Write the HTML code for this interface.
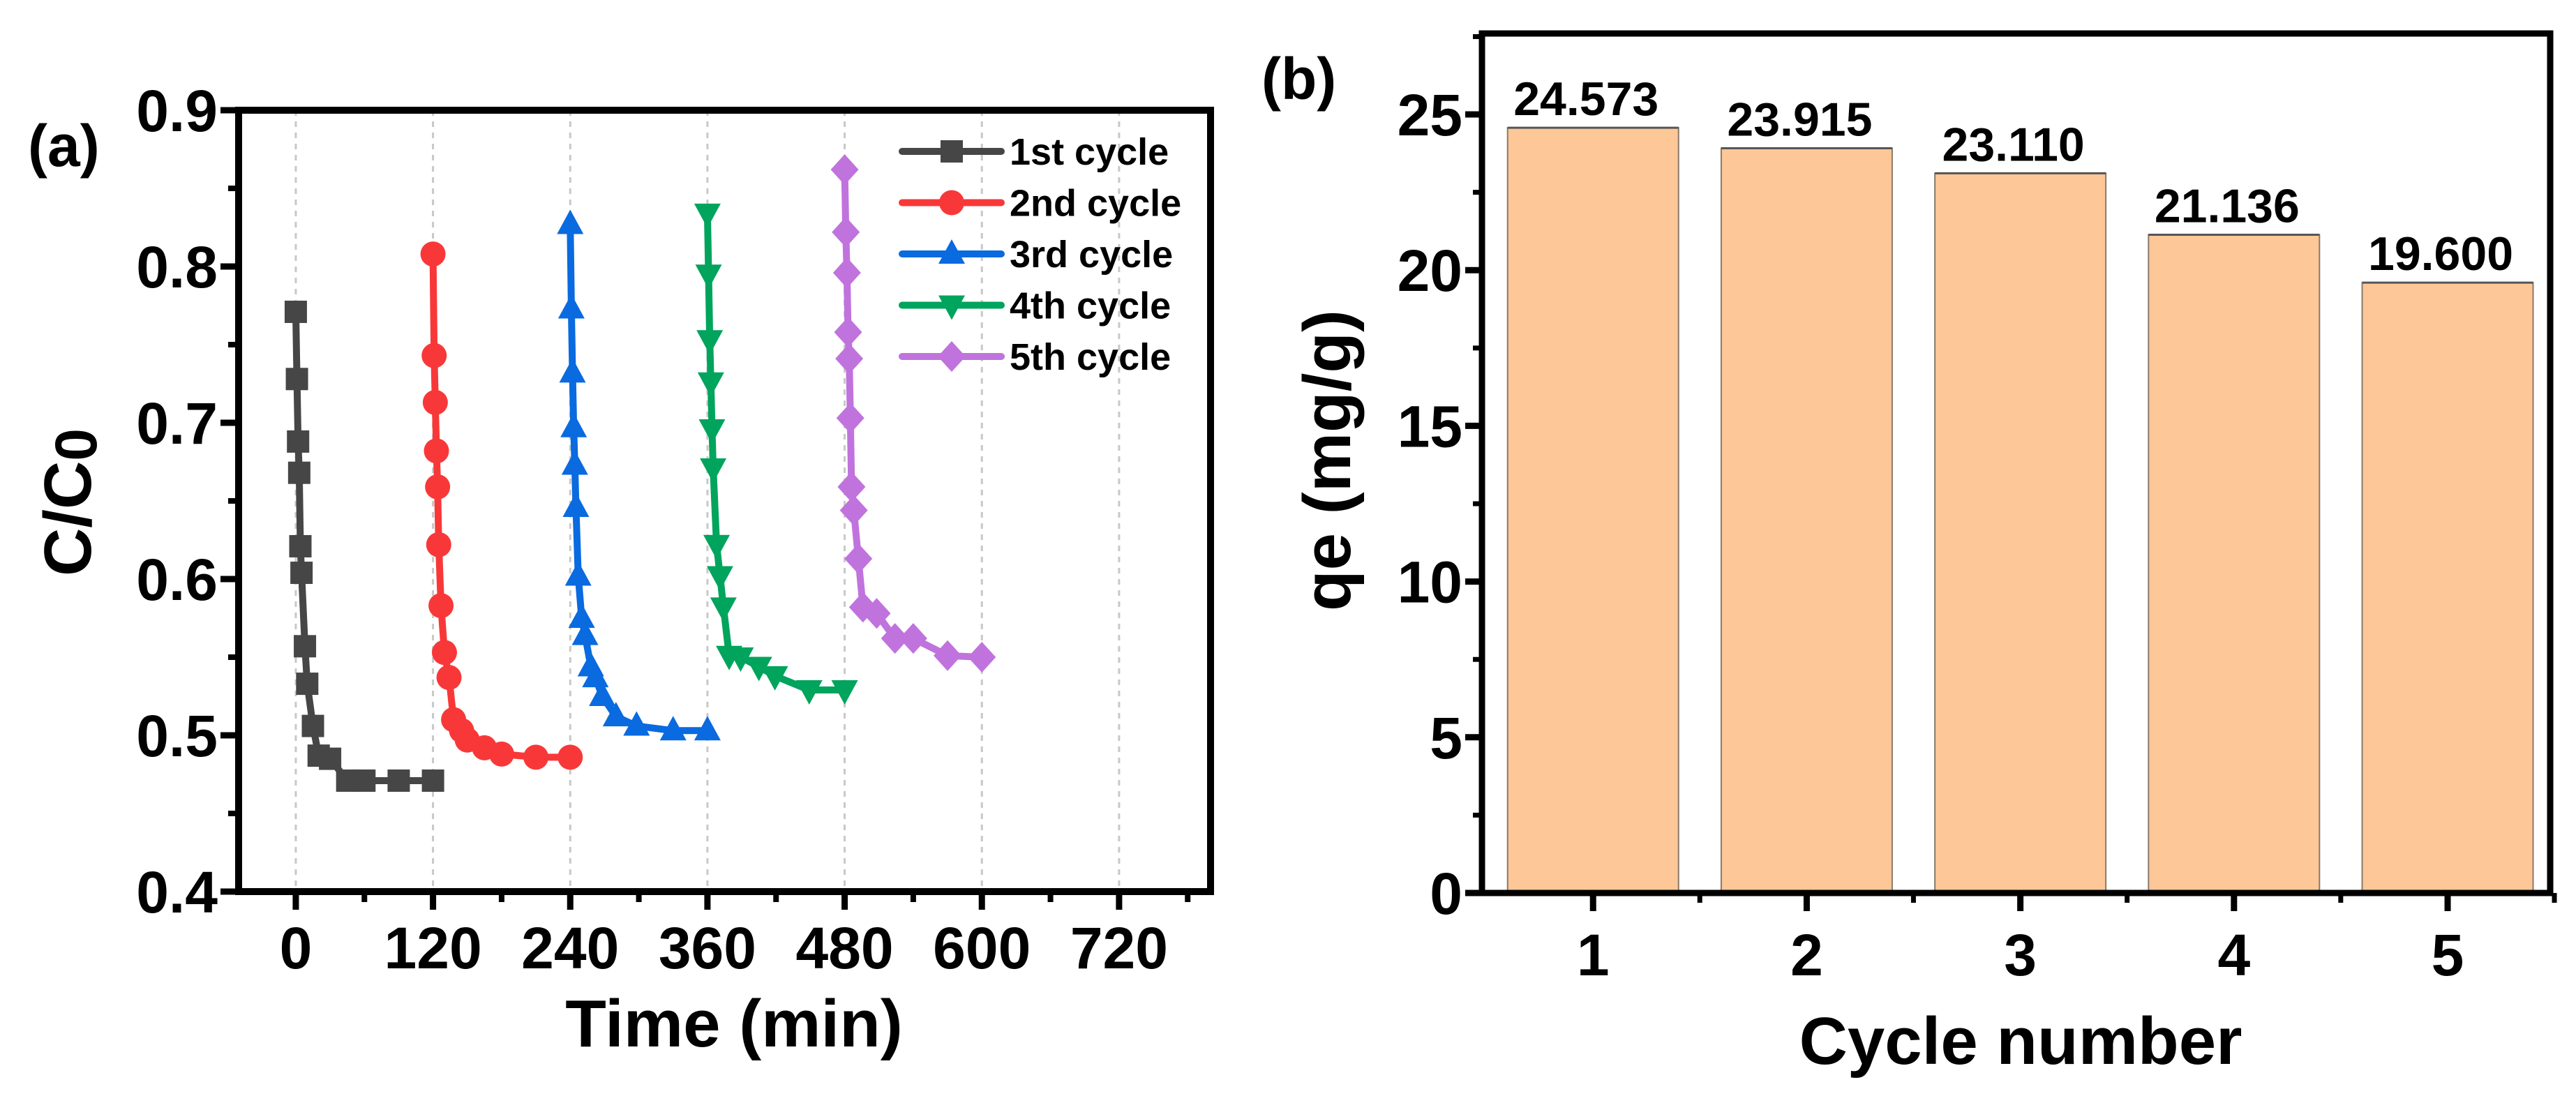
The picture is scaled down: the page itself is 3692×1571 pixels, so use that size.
<!DOCTYPE html>
<html><head><meta charset="utf-8"><style>
html,body{margin:0;padding:0;background:#fff}
svg{display:block;font-family:"Liberation Sans",Arial,sans-serif}
</style></head><body>
<svg id="fig" width="3692" height="1571" viewBox="0 0 3692 1571" xmlns="http://www.w3.org/2000/svg">
<g id="pa"></g>
<g id="pb"></g>
</svg>
<script>
const xTicksA=[0,120,240,360,480,600,720];
const yTicksA=[0.4,0.5,0.6,0.7,0.8,0.9];
const seriesNames=["1st cycle","2nd cycle","3rd cycle","4th cycle","5th cycle"];
const t1=[0,1,2,3,4,5,8,10,15,20,30,45,60,90,120];
const c1=[0.771,0.728,0.688,0.668,0.621,0.604,0.557,0.533,0.506,0.487,0.485,0.471,0.471,0.471,0.471];
const t2=[120,121,122,123,124,125,127,130,134,138,145,150,165,180,210,240];
const c2=[0.808,0.743,0.713,0.682,0.659,0.622,0.583,0.553,0.537,0.510,0.503,0.497,0.492,0.488,0.486,0.486];
const t3=[240,241,242,243,244,245,247,250,253,258,262,268,280,298,330,360];
const c3=[0.827,0.773,0.732,0.697,0.673,0.646,0.602,0.575,0.564,0.544,0.537,0.525,0.512,0.506,0.503,0.503];
const t4=[360,361,362,363,364,365,368,371,374,379,389,405,419,449,480];
const c4=[0.834,0.795,0.753,0.726,0.696,0.671,0.622,0.602,0.582,0.551,0.550,0.544,0.538,0.529,0.529];
const t5=[480,481,482,483,484,485,486,488,492,496,508,524,540,570,600];
const c5=[0.862,0.822,0.796,0.758,0.741,0.703,0.659,0.644,0.613,0.582,0.578,0.562,0.562,0.551,0.550];
const cycles=["1","2","3","4","5"];
const qe=[24.573,23.915,23.110,21.136,19.600];
const qeLabels=["24.573","23.915","23.110","21.136","19.600"];
const yTicksB=[0,5,10,15,20,25];

const NS="http://www.w3.org/2000/svg";
function mk(p,tag,attrs){const e=document.createElementNS(NS,tag);for(const k in attrs)e.setAttribute(k,attrs[k]);p.appendChild(e);return e;}
function txt(p,s,attrs){const e=mk(p,'text',attrs);e.textContent=s;return e;}

// Panel A
const pa=document.getElementById('pa');
const AL=342,AR=1735,AT=158,AB=1278,XMIN=-50,XMAX=800,YMIN=0.4,YMAX=0.9;
const xa=v=>AL+(v-XMIN)/(XMAX-XMIN)*(AR-AL);
const ya=v=>AB-(v-YMIN)/(YMAX-YMIN)*(AB-AT);
xTicksA.forEach(v=>{const g=mk(pa,'line',{x1:xa(v),x2:xa(v),y1:AT,y2:AB,stroke:'#c8c8c8','stroke-width':3,'stroke-dasharray':'8 8'});
});
const cols=["#464646","#f83838","#0a6adf","#00a45c","#c073dd"];
const T=[t1,t2,t3,t4,t5],C=[c1,c2,c3,c4,c5];
function marker(p,k,x,y,col){
 let e;
 if(k===0)e=mk(p,'rect',{x:x-16,y:y-16,width:32,height:32,fill:col});
 else if(k===1)e=mk(p,'circle',{cx:x,cy:y,r:18,fill:col});
 else if(k===2)e=mk(p,'polygon',{points:`${x},${y-21} ${x+19},${y+14} ${x-19},${y+14}`,fill:col});
 else if(k===3)e=mk(p,'polygon',{points:`${x},${y+21} ${x+19},${y-14} ${x-19},${y-14}`,fill:col});
 else e=mk(p,'polygon',{points:`${x},${y-22} ${x+20},${y} ${x},${y+22} ${x-20},${y}`,fill:col});
 return e;}
for(let s=0;s<5;s++){
 const g=mk(pa,'g',{});
 const pts=T[s].map((t,i)=>xa(t)+','+ya(C[s][i])).join(' ');
 const pl=mk(g,'polyline',{points:pts,fill:'none',stroke:cols[s],'stroke-width':10,'stroke-linejoin':'round'});
 
 T[s].forEach((t,i)=>{const m=marker(g,s,xa(t),ya(C[s][i]),cols[s]);
 });
}
const fr=mk(pa,'rect',{x:AL,y:AT,width:AR-AL,height:AB-AT,fill:'none',stroke:'#000','stroke-width':10});

xTicksA.forEach(v=>{const l=mk(pa,'line',{x1:xa(v),x2:xa(v),y1:AB,y2:AB+26,stroke:'#000','stroke-width':9});

const m=mk(pa,'line',{x1:xa(v+60),x2:xa(v+60),y1:AB,y2:AB+15,stroke:'#000','stroke-width':8});

const t=txt(pa,String(v),{x:xa(v),y:1388,'font-size':84,'font-weight':'bold','text-anchor':'middle'});
});
yTicksA.forEach((v,i)=>{const l=mk(pa,'line',{x1:AL-26,x2:AL,y1:ya(v),y2:ya(v),stroke:'#000','stroke-width':9});

if(i<yTicksA.length-1){const m=mk(pa,'line',{x1:AL-15,x2:AL,y1:ya(v+0.05),y2:ya(v+0.05),stroke:'#000','stroke-width':8});
}
const t=txt(pa,v.toFixed(1),{x:AL-30,y:ya(v)+30,'font-size':84,'font-weight':'bold','text-anchor':'end'});
});
let e;
e=txt(pa,'Time (min)',{x:1052,y:1500,'font-size':96,'font-weight':'bold','text-anchor':'middle'});

e=mk(pa,'text',{transform:'translate(130,720) rotate(-90)','font-size':96,'font-weight':'bold','text-anchor':'middle'});
e.innerHTML='C/C<tspan font-size="84" dy="8">0</tspan>';

e=txt(pa,'(a)',{x:40,y:238,'font-size':84,'font-weight':'bold'});

const lg=mk(pa,'g',{});
seriesNames.forEach((n,i)=>{const y=217+i*73.5;
 const g=mk(lg,'g',{});
 mk(g,'line',{x1:1293,x2:1435,y1:y,y2:y,stroke:cols[i],'stroke-width':10,'stroke-linecap':'round'});
 marker(g,i,1364,y,cols[i]);
 txt(g,n,{x:1447,y:y+19,'font-size':54,'font-weight':'bold'});});

// Panel B
const pb=document.getElementById('pb');
const BL=2124,BR=3655,BT=48,BB=1280,BXMIN=0.48,BXMAX=5.48,BYMAX=27.6;
const xb=v=>BL+(v-BXMIN)/(BXMAX-BXMIN)*(BR-BL);
const yb=v=>BB-v/BYMAX*(BB-BT);
const bw=245;
qe.forEach((v,i)=>{const cx=xb(i+1);
 const r=mk(pb,'rect',{x:cx-bw/2,y:yb(v),width:bw,height:BB-yb(v),fill:'#fdc797',stroke:'#8a7a6a','stroke-width':2});
 
 mk(pb,'line',{x1:cx-bw/2,x2:cx+bw/2,y1:yb(v),y2:yb(v),stroke:'#555','stroke-width':3});
 const t=txt(pb,qeLabels[i],{x:cx-10,y:yb(v)-18,'font-size':68,'font-weight':'bold','text-anchor':'middle'});
 
 const tk=mk(pb,'line',{x1:cx,x2:cx,y1:BB,y2:BB+26,stroke:'#000','stroke-width':9});
 
 const mt=mk(pb,'line',{x1:cx+153,x2:cx+153,y1:BB,y2:BB+14,stroke:'#000','stroke-width':7});
 
 const tl=txt(pb,cycles[i],{x:cx,y:1398,'font-size':84,'font-weight':'bold','text-anchor':'middle'});
 });
const fb=mk(pb,'rect',{x:BL,y:BT,width:BR-BL,height:BB-BT,fill:'none',stroke:'#000','stroke-width':9});

yTicksB.forEach(v=>{const l=mk(pb,'line',{x1:BL-24,x2:BL,y1:yb(v),y2:yb(v),stroke:'#000','stroke-width':9});

const m=mk(pb,'line',{x1:BL-13,x2:BL,y1:yb(v+2.5),y2:yb(v+2.5),stroke:'#000','stroke-width':7});

const t=txt(pb,String(v),{x:BL-28,y:yb(v)+30,'font-size':84,'font-weight':'bold','text-anchor':'end'});
});
e=txt(pb,'Cycle number',{x:2896,y:1525,'font-size':96,'font-weight':'bold','text-anchor':'middle'});

e=txt(pb,'qe (mg/g)',{transform:'translate(1935,660) rotate(-90)','font-size':96,'font-weight':'bold','text-anchor':'middle'});

e=txt(pb,'(b)',{x:1808,y:142,'font-size':84,'font-weight':'bold'});

</script>
</body></html>
